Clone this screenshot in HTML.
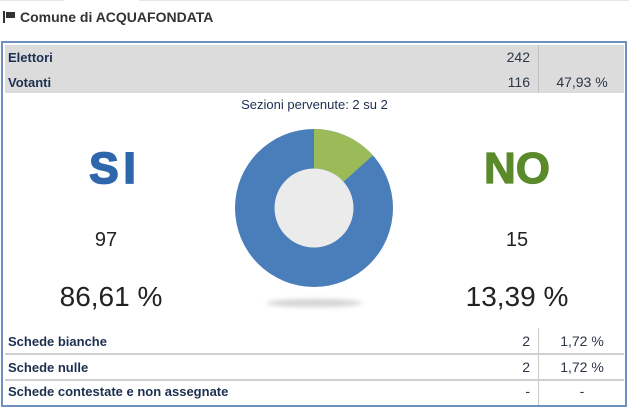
<!DOCTYPE html>
<html><head><meta charset="utf-8"><style>
html,body{margin:0;padding:0;background:#fff;}
body{width:630px;height:410px;position:relative;overflow:hidden;font-family:"Liberation Sans",Arial,sans-serif;}
.a{position:absolute;white-space:nowrap;}
.lbl{font-size:13px;font-weight:bold;color:#1c2f4f;line-height:13px;}
.num{font-size:14px;color:#2b3648;line-height:14px;}
</style></head><body>
<div class="a" style="left:0;top:0;width:64px;height:1px;background:#e6e6e6"></div>
<div class="a" style="left:139px;top:0;width:490px;height:1px;background:#e6e6e6"></div>
<!-- flag -->
<div class="a" style="left:3px;top:11px;width:1.5px;height:12px;background:#333"></div>
<div class="a" style="left:6px;top:12px;width:9px;height:6px;background:#333"></div>
<div class="a" style="left:20px;top:10px;font-size:14px;font-weight:bold;color:#333;line-height:14px">Comune di ACQUAFONDATA</div>
<!-- box -->
<div class="a" style="left:1px;top:41px;width:622px;height:362px;border:2px solid #6d90c0"></div>
<div class="a" style="left:5px;top:45px;width:619px;height:48px;background:#dcdcdc"></div>
<div class="a" style="left:538px;top:45px;width:1px;height:48px;background:#c2c2c2"></div>
<div class="a lbl" style="left:8px;top:51px">Elettori</div>
<div class="a lbl" style="left:8px;top:76px">Votanti</div>
<div class="a num" style="right:100px;top:50px">242</div>
<div class="a num" style="right:100px;top:75px">116</div>
<div class="a num" style="left:540px;width:84px;text-align:center;top:75px">47,93 %</div>
<div class="a" style="left:200px;width:229px;text-align:center;top:98px;font-size:13px;color:#1c2f4f;line-height:13px">Sezioni pervenute: 2 su 2</div>
<!-- SI / NO -->
<div class="a" style="left:44px;width:142px;text-align:center;top:147px;font-size:44px;line-height:44px;font-weight:bold;color:#2f67ad;-webkit-text-stroke:1.8px #2f67ad;letter-spacing:5px">SI</div>
<div class="a" style="left:446px;width:142px;text-align:center;top:147px;font-size:44px;line-height:44px;font-weight:bold;color:#5a8a2a;-webkit-text-stroke:1.2px #5a8a2a">NO</div>
<div class="a" style="left:40px;width:132px;text-align:center;top:230px;font-size:20px;line-height:20px;color:#222">97</div>
<div class="a" style="left:446px;width:142px;text-align:center;top:230px;font-size:20px;line-height:20px;color:#222">15</div>
<div class="a" style="left:40px;width:142px;text-align:center;top:283px;font-size:28px;line-height:28px;color:#222">86,61 %</div>
<div class="a" style="left:446px;width:142px;text-align:center;top:283px;font-size:28px;line-height:28px;color:#222">13,39 %</div>
<!-- donut -->
<svg class="a" style="left:0;top:0" width="630" height="410">
<defs><filter id="b" x="-50%" y="-200%" width="200%" height="500%"><feGaussianBlur stdDeviation="2.5"/></filter></defs>
<ellipse cx="314.5" cy="303" rx="48" ry="4" fill="#d4d4d4" filter="url(#b)"/>
<circle cx="314" cy="208" r="79" fill="#4a7ebb"/>
<path d="M314 129 A79 79 0 0 1 372.9 155.4 L343.45 181.7 A39.5 39.5 0 0 0 314 168.5 Z" fill="#9bbb59"/>
<circle cx="314" cy="208" r="39.5" fill="#ebebeb"/>
</svg>
<!-- bottom rows -->
<div class="a" style="left:538px;top:328px;width:1px;height:77px;background:#c8c8c8"></div>
<div class="a" style="left:5px;top:353px;width:619px;height:1.5px;background:#cfcfcf"></div>
<div class="a" style="left:5px;top:379px;width:619px;height:1.5px;background:#cfcfcf"></div>
<div class="a lbl" style="left:8px;top:335px">Schede bianche</div>
<div class="a lbl" style="left:8px;top:361px">Schede nulle</div>
<div class="a lbl" style="left:8px;top:385px">Schede contestate e non assegnate</div>
<div class="a num" style="right:100px;top:334px">2</div>
<div class="a num" style="right:100px;top:360px">2</div>
<div class="a num" style="right:100px;top:384px">-</div>
<div class="a num" style="left:540px;width:84px;text-align:center;top:334px">1,72 %</div>
<div class="a num" style="left:540px;width:84px;text-align:center;top:360px">1,72 %</div>
<div class="a num" style="left:540px;width:84px;text-align:center;top:384px">-</div>
</body></html>
